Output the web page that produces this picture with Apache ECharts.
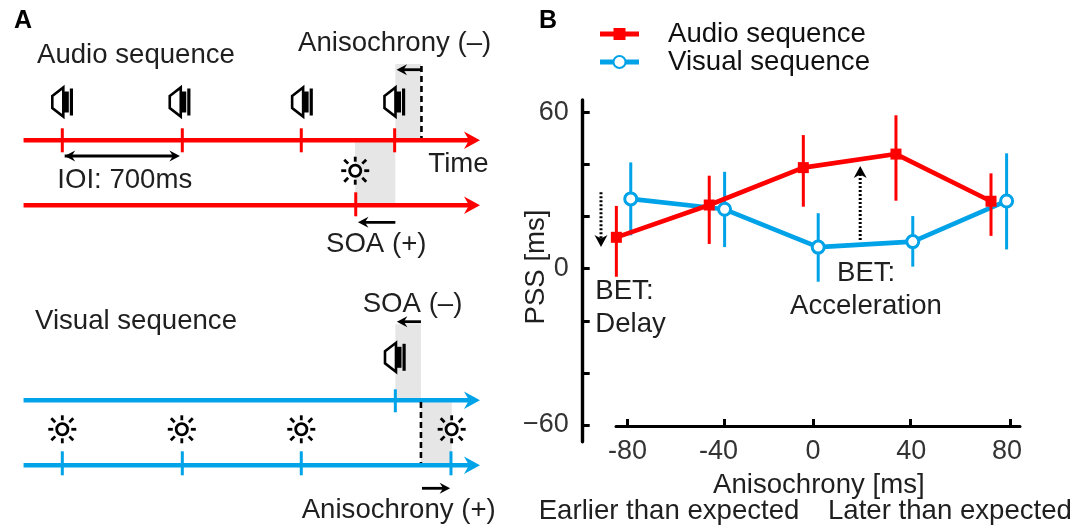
<!DOCTYPE html>
<html>
<head>
<meta charset="utf-8">
<script src="https://cdn.jsdelivr.net/npm/echarts@6/dist/echarts.min.js"></script>
<style>html,body{margin:0;padding:0;background:#fff}#c{width:1086px;height:527px}</style>
</head>
<body>
<div id="c"></div>
<script>
// ---- Panel B data ----
const audioX = [-83.6, -44.9, -5.7, 32.9, 72.5];
const audioPSS = [12.05, 24.45, 38.8, 44.0, 25.9];
const audioHigh = [24.1, 35.7, 51.3, 58.9, 36.6];
const audioLow = [-3.1, 9.5, 23.8, 26.1, 12.6];
const visualX = [-77.6, -38.5, 0.5, 39.9, 79.0];
const visualPSS = [26.8, 22.8, 8.3, 10.4, 26.0];
const visualHigh = [40.8, 37.2, 21.3, 20.2, 44.3];
const visualLow = [12.8, 8.3, -5.0, 0.8, 7.4];
const xTickValues = [-79, -38.6, -1.5, 38.9, 80.5];
const xLabelValues = [-79, -41, -1.7, 39.3, 79.2];
const xTickLabels = ['-80', '-40', '0', '40', '80'];
const yTickValues = [-60, -40, -20, 0, 20, 40, 60];
const yLabelValues = [-60, 0, 60];
const betArrows = [[-90, 29.3, -90, 8.3], [18, 11, 18, 39.4]];

// ---- Panel A schematic (time in ms, row in panel units) ----
const audioOnsets = [0, 703, 1400, 1947];
const visualOnsets = [0, 703, 1400, 2277];
const probeAudio = 1951, probeVisual = 1719, expected = 2101;
const rows = { a1: 140.3, a2: 205.3, v1: 400.3, v2: 465.3 };
const redLines = [rows.a1, rows.a2];
const blueLines = [rows.v1, rows.v2];
const greyBands = [
  [1951, expected, 64, rows.a1],
  [1715, 1951, rows.a1 + 2, rows.a2 - 2],
  [1951, expected, 324.3, rows.v1],
  [expected, 2282, rows.v1 + 2, rows.v2 - 2]
];
const dashes = [[expected + 3, 66, expected + 3, 138], [expected, 402, expected, 463]];
const arrowSegments = [
  [2101, 69.7, 1958, 69.7, 0],
  [14, 156, 689, 156, 1],
  [1951, 222.3, 1732, 222.3, 0],
  [2101, 321.7, 1960, 321.7, 0],
  [2107, 488.3, 2272, 488.3, 0]
];
const speakers = [[0, 101.5], [688, 101.5], [1405, 101.5], [1946, 101.5], [1949, 356.8]];
const suns = [[0, 429.3], [700, 429.3], [1400, 429.3], [2281, 429.3], [1716, 170.7]];

const annotationTexts = ['Audio sequence','Anisochrony (\u2013)','Time','IOI: 700ms','SOA (+)','Visual sequence','SOA (\u2013)','Anisochrony (+)','BET:','Delay','BET:','Acceleration','Anisochrony [ms]','Earlier than expected','Later than expected'];
const annotationAnchors = [[37,63.3],[298,50.7],[428.3,171.7],[57.3,188.3],[326,251.7],[35,329],[362.7,311.7],[301.7,518.3],[595.3,298.7],[595.3,331.7],[837,280.7],[790,314],[713,492.7],[538.7,519.3],[828,519.3]];

const RED = '#ff0000', BLUE = '#00a2e8', INK = '#1f1f1f';
const FS = 27.6;

function custom(data, renderItem, z, panelA) {
  return { type: 'custom', data, renderItem, z, silent: true,
    xAxisIndex: panelA ? 1 : 0, yAxisIndex: panelA ? 1 : 0, animation: false };
}
function errorBars(color, xs, lows, highs, z) {
  return custom(xs.map((x, i) => [x, lows[i], highs[i]]), (p, api) => {
    const a = api.coord([api.value(0), api.value(1)]);
    const b = api.coord([api.value(0), api.value(2)]);
    return { type: 'line', shape: { x1: a[0], y1: a[1], x2: b[0], y2: b[1] },
      style: { stroke: color, lineWidth: 3 } };
  }, z, false);
}
function timelines(rowsList, color) {
  return custom(rowsList.map(r => [-227, r, 2447]), (p, api) => {
    const a = api.coord([api.value(0), api.value(1)]);
    const b = api.coord([api.value(2), api.value(1)]);
    return { type: 'group', children: [
      { type: 'line', shape: { x1: a[0], y1: a[1], x2: b[0] - 10, y2: b[1] }, style: { stroke: color, lineWidth: 4.4 } },
      { type: 'polygon', shape: { points: [[b[0], b[1]], [b[0] - 16, b[1] - 8.7], [b[0] - 11, b[1]], [b[0] - 16, b[1] + 8.7]] }, style: { fill: color } }
    ] };
  }, 5, true);
}
function ticksAt(times, row, color, up, down) {
  return custom(times.map(t => [t, row]), (p, api) => {
    const c = api.coord([api.value(0), api.value(1)]);
    return { type: 'line', shape: { x1: c[0], y1: c[1] - up, x2: c[0], y2: c[1] + down },
      style: { stroke: color, lineWidth: 3 } };
  }, 6, true);
}
function head(x, y, dx, dy, len, half, notch) {
  const nx = -dy, ny = dx;
  return { type: 'polygon', shape: { points: [
    [x, y],
    [x - dx * len + nx * half, y - dy * len + ny * half],
    [x - dx * notch, y - dy * notch],
    [x - dx * len - nx * half, y - dy * len - ny * half]
  ] }, style: { fill: '#000' } };
}

const series = [
  // Panel B
  errorBars(BLUE, visualX, visualLow, visualHigh, 1),
  { name: 'Visual sequence', type: 'line', z: 2, data: visualX.map((x, i) => [x, visualPSS[i]]),
    symbol: 'circle', symbolSize: 12, clip: false, animation: false,
    lineStyle: { color: BLUE, width: 4.6 },
    itemStyle: { color: '#fff', borderColor: BLUE, borderWidth: 3 } },
  errorBars(RED, audioX, audioLow, audioHigh, 3),
  { name: 'Audio sequence', type: 'line', z: 4, data: audioX.map((x, i) => [x, audioPSS[i]]),
    symbol: 'rect', symbolSize: 11, clip: false, animation: false,
    lineStyle: { color: RED, width: 4.6 }, itemStyle: { color: RED } },
  custom(betArrows, (p, api) => {
    const a = api.coord([api.value(0), api.value(1)]);
    const b = api.coord([api.value(2), api.value(3)]);
    const dy = b[1] > a[1] ? 1 : -1;
    return { type: 'group', children: [
      { type: 'line', shape: { x1: a[0], y1: a[1], x2: b[0], y2: b[1] - dy * 8 },
        style: { stroke: '#000', lineWidth: 3, lineDash: [2, 2] } },
      head(b[0], b[1], 0, dy, 12, 6.5, 8.5)
    ] };
  }, 5, false),
  // Panel A
  custom(greyBands, (p, api) => {
    const a = api.coord([api.value(0), api.value(2)]);
    const b = api.coord([api.value(1), api.value(3)]);
    return { type: 'rect', shape: { x: a[0], y: a[1], width: b[0] - a[0], height: b[1] - a[1] }, style: { fill: '#e6e6e6' } };
  }, 1, true),
  timelines(redLines, RED),
  timelines(blueLines, BLUE),
  ticksAt(audioOnsets, rows.a1, RED, 12, 12),
  ticksAt([probeVisual], rows.a2, RED, 13, 11),
  ticksAt([probeAudio], rows.v1, BLUE, 11, 12),
  ticksAt(visualOnsets, rows.v2, BLUE, 14, 10),
  custom(dashes, (p, api) => {
    const a = api.coord([api.value(0), api.value(1)]);
    const b = api.coord([api.value(2), api.value(3)]);
    return { type: 'line', shape: { x1: a[0], y1: a[1], x2: b[0], y2: b[1] },
      style: { stroke: '#000', lineWidth: 2.6, lineDash: [6, 4] } };
  }, 7, true),
  custom(arrowSegments, (p, api) => {
    const a = api.coord([api.value(0), api.value(1)]);
    const b = api.coord([api.value(2), api.value(3)]);
    const d = b[0] > a[0] ? 1 : -1;
    const kids = [
      { type: 'line', shape: { x1: a[0], y1: a[1], x2: b[0] - d * 4, y2: b[1] }, style: { stroke: '#000', lineWidth: 2.8 } },
      head(b[0], b[1], d, 0, 10.5, 5.5, 7)
    ];
    if (api.value(4)) kids.push(head(a[0], a[1], -d, 0, 10.5, 5.5, 7));
    return { type: 'group', children: kids };
  }, 8, true),
  custom(speakers, (p, api) => {
    const c = api.coord([api.value(0), api.value(1)]);
    const x = c[0] - 11, y = c[1] - 15;
    return { type: 'group', children: [
      { type: 'polygon', shape: { points: [[x + 1, y + 9.5], [x + 12, y + 1], [x + 12, y + 30], [x + 1, y + 21.5]] },
        style: { fill: 'none', stroke: '#000', lineWidth: 2.6 } },
      { type: 'rect', shape: { x: x + 12, y: y + 5, width: 5.5, height: 21 }, style: { fill: '#000' } },
      { type: 'rect', shape: { x: x + 18.5, y: y + 2, width: 3.2, height: 27 }, style: { fill: '#000' } }
    ] };
  }, 9, true),
  custom(suns, (p, api) => {
    const c = api.coord([api.value(0), api.value(1)]);
    const kids = [{ type: 'circle', shape: { cx: c[0], cy: c[1], r: 5.6 }, style: { fill: '#fff', stroke: '#000', lineWidth: 2.8 } }];
    for (let k = 0; k < 8; k++) {
      const ang = k * Math.PI / 4, r0 = k % 2 ? 10 : 9, r1 = k % 2 ? 15.5 : 14;
      kids.push({ type: 'line', shape: { x1: c[0] + r0 * Math.cos(ang), y1: c[1] + r0 * Math.sin(ang), x2: c[0] + r1 * Math.cos(ang), y2: c[1] + r1 * Math.sin(ang) },
        style: { stroke: '#000', lineWidth: 2.8 } });
    }
    return { type: 'group', children: kids };
  }, 9, true)
];

const plainText = (t, x, baseline, extra) => ({ type: 'text', x, y: baseline - 7.5, z: 20, silent: true,
  style: Object.assign({ text: t, fill: INK, font: FS + 'px "Liberation Sans", Arial, sans-serif', verticalAlign: 'middle', align: 'left' }, extra || {}) });

const graphicEls = annotationTexts.map((t, i) => plainText(t, annotationAnchors[i][0], annotationAnchors[i][1]));
graphicEls.push(plainText('A', 14, 29, { font: 'bold 25px "Liberation Sans", Arial, sans-serif', fill: '#000' }));
graphicEls[graphicEls.length - 1].y = 21;
graphicEls.push(plainText('B', 539, 29, { font: 'bold 25px "Liberation Sans", Arial, sans-serif', fill: '#000' }));
graphicEls[graphicEls.length - 1].y = 21;
graphicEls.push({ type: 'text', x: 536.5, y: 267, rotation: Math.PI / 2, z: 20, silent: true,
  style: { text: 'PSS [ms]', fill: INK, font: FS + 'px "Liberation Sans", Arial, sans-serif', align: 'center', verticalAlign: 'middle' } });

const chart = echarts.init(document.getElementById('c'), null, { renderer: 'canvas' });
chart.setOption({
  animation: false,
  backgroundColor: '#fff',
  grid: [
    { left: 616, width: 404, top: 100, height: 341.7 },
    { left: 11.1, width: 477.95, top: 0, height: 527 }
  ],
  xAxis: [
    { type: 'value', gridIndex: 0, min: -83.75, max: 84.58, offset: -15.7,
      splitLine: { show: false },
      axisLine: { onZero: false, lineStyle: { color: '#000', width: 3 } },
      axisTick: { inside: true, length: 7, customValues: xTickValues, lineStyle: { color: '#000', width: 3 } },
      axisLabel: { customValues: xLabelValues, margin: 12, fontSize: 27, color: '#333', fontFamily: 'Liberation Sans',
        formatter: v => xTickLabels[xLabelValues.indexOf(v)] } },
    { type: 'value', gridIndex: 1, min: -300, max: 2500, show: false }
  ],
  yAxis: [
    { type: 'value', gridIndex: 0, min: -66.41, max: 64.76, offset: 33.3,
      splitLine: { show: false },
      axisLine: { onZero: false, lineStyle: { color: '#000', width: 3.4 } },
      axisTick: { inside: true, length: 7, customValues: yTickValues, lineStyle: { color: '#000', width: 3 } },
      axisLabel: { customValues: yLabelValues, margin: 14, fontSize: 27, color: '#333', fontFamily: 'Liberation Sans', padding: [4, 0, 0, 0],
        formatter: v => v < 0 ? '\u2212' + Math.abs(v) : String(v) } },
    { type: 'value', gridIndex: 1, min: 0, max: 527, inverse: true, show: false }
  ],
  legend: { data: ['Audio sequence', 'Visual sequence'], orient: 'vertical', left: 592.5, top: 15, selectedMode: false,
    itemWidth: 39, itemHeight: 15, itemGap: 0, lineStyle: { width: 5 },
    textStyle: { fontSize: FS, color: '#111', fontFamily: 'Liberation Sans', padding: [0, 0, 0, 24], height: 28, lineHeight: 28 } },
  series,
  graphic: graphicEls
});
</script>
</body>
</html>
